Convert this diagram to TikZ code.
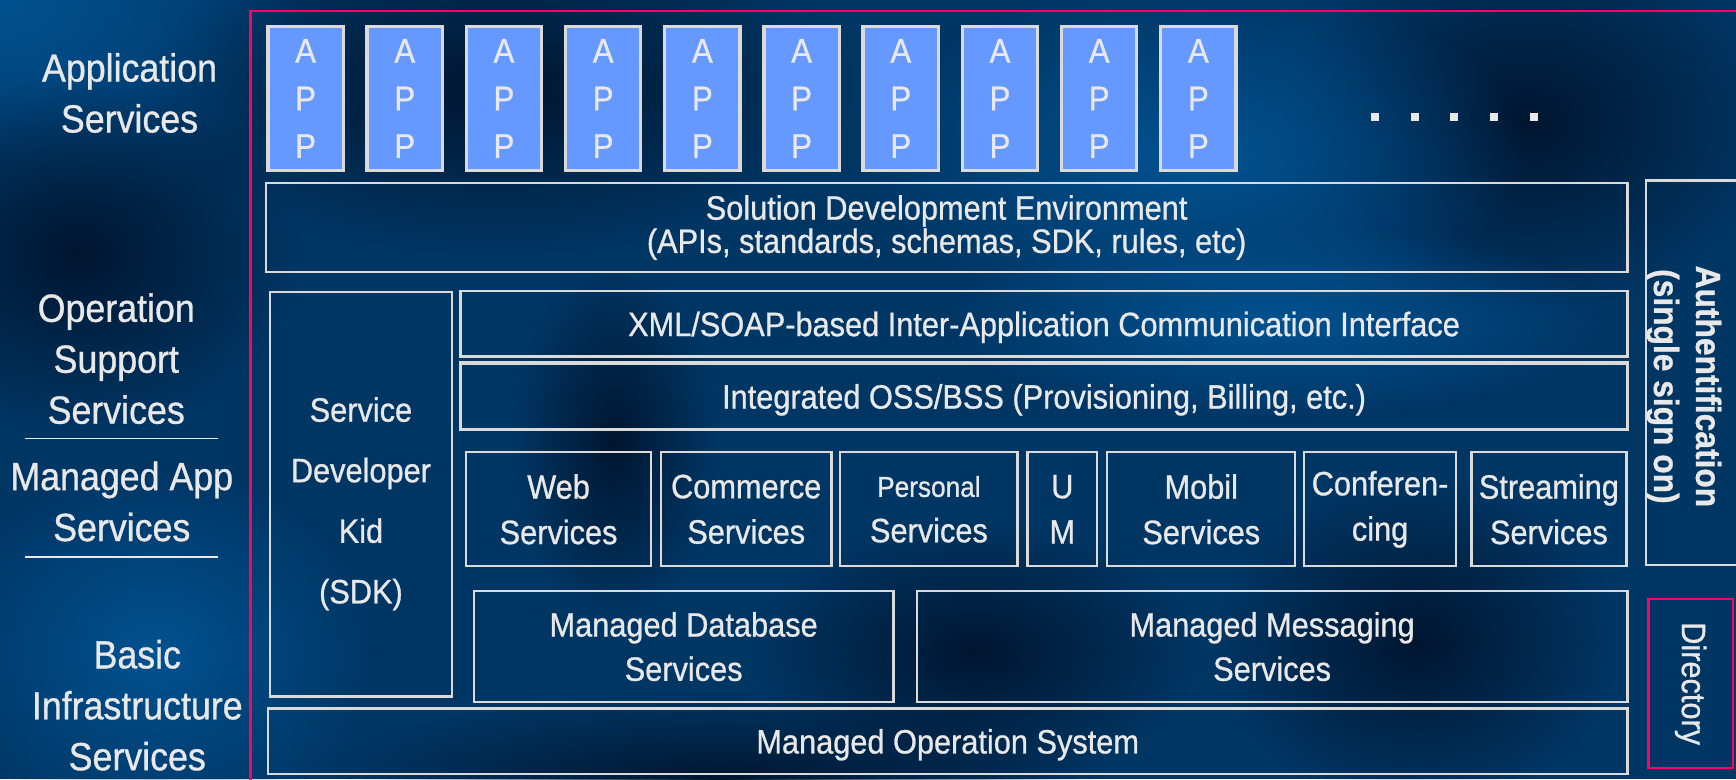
\documentclass[tikz,border=0pt]{standalone}
\usepackage{fontspec}
\setmainfont{Liberation Sans}[FakeStretch=0.91, FakeBold=0.8]
\usetikzlibrary{fadings}
\tikzfading[name=softspot, inner color=transparent!0, outer color=transparent!100]
\begin{document}
\begin{tikzpicture}[x=1pt,y=-1pt,
  box/.style={draw=boxgray, line width=2pt, text=txtgray, align=center, inner sep=0pt, font=\fontsize{30.5}{41}\selectfont},
  oneline/.style={text depth=0pt},
  txt/.style={text=txtgray, align=center, inner sep=0pt},
  appbox/.style={draw=boxgray, line width=3pt, fill=appblue, text=txtgray, align=center, inner sep=0pt,
     minimum width=68pt, minimum height=130pt, font=\fontsize{31}{43}\selectfont},
  lbl/.style={text=txtgray, align=center, inner sep=0pt, font=\fontsize{35.5}{46}\selectfont},
  sep/.style={draw=txtgray, line width=1.5pt},
  dark/.style={fill=bgdark, path fading=softspot},
  light/.style={fill=bglight, path fading=softspot}
]
\definecolor{bgbase}{RGB}{0,54,100}
\definecolor{bgdark}{RGB}{0,22,48}
\definecolor{bglight}{RGB}{0,82,145}
\definecolor{boxgray}{RGB}{218,218,218}
\definecolor{txtgray}{RGB}{232,232,232}
\definecolor{appblue}{RGB}{102,153,255}
\definecolor{pinkc}{RGB}{255,0,100}
\useasboundingbox (0,0) rectangle (1568,704);
\clip (0,0) rectangle (1568,704);
% background
\fill[bgbase] (0,0) rectangle (1568,704);
\fill[light] (0,0) ellipse (300 and 200);
\fill[dark] (70,230) ellipse (200 and 160);
\fill[light] (140,590) ellipse (200 and 170);
\fill[dark] (450,80) ellipse (320 and 150);
\fill[dark] (1380,110) ellipse (220 and 170);
\fill[light] (1080,140) ellipse (300 and 160);
\fill[dark] (555,400) ellipse (90 and 160);
\fill[dark] (880,590) ellipse (200 and 120);
\fill[dark] (1280,580) ellipse (180 and 150);
\fill[dark] (650,705) ellipse (350 and 80);
\fill[light] (1150,290) ellipse (300 and 90);

% pink frame
\draw[pinkc, line width=2.5pt] (226,10) rectangle (1600,740);

% left labels
\node[lbl] (appsvc) at (117,84) {Application\\Services};
\node[lbl] (opsup) at (105,324) {Operation\\Support\\Services};
\node[lbl] (mgdapp) at (110,453) {Managed App\\Services};
\node[lbl] (basic) at (124,637) {Basic\\Infrastructure\\Services};
\coordinate (s1a) at (23,396); \coordinate (s1b) at (197,396);
\coordinate (s2a) at (23,503); \coordinate (s2b) at (197,503);
\draw[sep] (s1a) -- (s1b);
\draw[sep] (s2a) -- (s2b);

% app boxes
\foreach \i in {0,...,9}{
  \node[appbox] (app\i) at ({276+89.6*\i},89) {A\\P\\P};
}
% dots
\foreach \i in {0,...,4}{
  \fill[txtgray] ({1238.5+35.8*\i},102) rectangle ++(7,7);
}

% main boxes
\node[box, minimum width=1230pt, minimum height=81pt, font=\fontsize{30.5}{30}\selectfont] (sde) at (855,205.5)
  {Solution Development Environment\\(APIs, standards, schemas, SDK, rules, etc)};
\node[box, minimum width=93pt, minimum height=347pt] (auth) at (1533.5,336.5) {};
\node[txt, rotate=-90, font=\bfseries\fontsize{31.5}{38}\selectfont] (authtxt) at (1521,349)
  {Authentification\\(single sign on)};
\node[box, draw=pinkc, minimum width=153pt, minimum height=76pt, rotate=-90] (dir) at (1527,617.5) {Directory};

\node[box, minimum width=164pt, minimum height=365pt] (sdk) at (326,446.5) {};
\node[txt, font=\fontsize{30.5}{54.7}\selectfont] (sdktxt) at (326,455)
  {Service\\Developer\\Kid\\(SDK)};
\node[box, oneline, minimum width=1054pt, minimum height=59pt] (xml) at (943,292.5)
  {XML/SOAP-based Inter-Application Communication Interface};
\node[box, oneline, line width=3pt, minimum width=1054pt, minimum height=60pt] (oss) at (943,358)
  {Integrated OSS/BSS (Provisioning, Billing, etc.)};

\node[box, minimum width=167pt, minimum height=103pt] (web) at (504.5,460) {Web\\Services};
\node[box, minimum width=154pt, minimum height=103pt] (com) at (674,460) {Commerce\\Services};
\node[box, minimum width=160pt, minimum height=103pt] (per) at (839,460)
  {{\fontsize{26}{26}\selectfont Personal}\\Services};
\node[box, minimum width=63pt, minimum height=103pt] (um) at (959.5,460) {U\\M};
\node[box, minimum width=170pt, minimum height=103pt] (mob) at (1085,460) {Mobil\\Services};
\node[box, minimum width=137pt, minimum height=103pt] (conf) at (1246.5,460) {Conferen-\\cing};
\node[box, minimum width=140pt, minimum height=103pt] (str) at (1399,460) {Streaming\\Services};

\node[box, minimum width=379pt, minimum height=100pt, font=\fontsize{30.5}{40}\selectfont] (db) at (617.5,584)
  {Managed Database\\Services};
\node[box, minimum width=642pt, minimum height=100pt, font=\fontsize{30.5}{40}\selectfont] (msg) at (1149,584)
  {Managed Messaging\\Services};
\node[box, oneline, minimum width=1228pt, minimum height=59pt] (mos) at (856,669.5) {Managed Operation System};
\end{tikzpicture}
\end{document}
